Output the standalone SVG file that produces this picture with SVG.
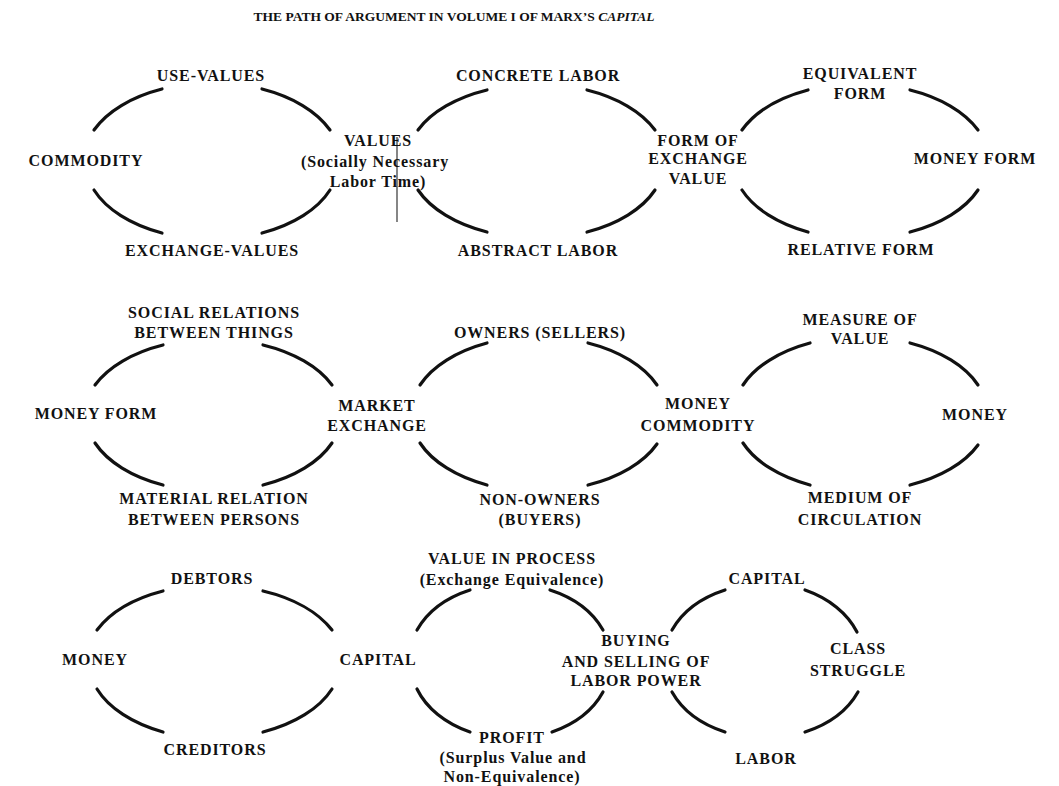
<svg xmlns="http://www.w3.org/2000/svg" width="1059" height="786" viewBox="0 0 1059 786">
<style>
  text { font-family: "Liberation Serif", "Times New Roman", serif; font-weight: bold; font-size: 16px; fill: #111; text-anchor: middle; letter-spacing: 0.9px; }
  .title { font-size: 13.5px; letter-spacing: 0; }
  .arc { fill: none; stroke: #111; stroke-width: 3.2; stroke-linecap: round; }
  .mark { stroke: #444; stroke-width: 1.3; fill: none; }
</style>
<rect width="1059" height="786" fill="#fff"/>
<g id="title"><text class="title" x="454" y="21">THE PATH OF ARGUMENT IN VOLUME I OF MARX’S <tspan font-style="italic">CAPITAL</tspan></text></g>

<g id="connectors">
  <!-- row 1 -->
  <path class="arc" d="M94,130 A128,77 0 0 1 162,89"/>
  <path class="arc" d="M262,89 A128,77 0 0 1 330,130"/>
  <path class="arc" d="M330,190 A128,77 0 0 1 262,233"/>
  <path class="arc" d="M162,233 A128,77 0 0 1 94,190"/>

  <path class="arc" d="M418,130 A128,77 0 0 1 487,90"/>
  <path class="arc" d="M587,90 A128,77 0 0 1 655,130"/>
  <path class="arc" d="M655,190 A128,77 0 0 1 587,232"/>
  <path class="arc" d="M487,232 A128,77 0 0 1 418,190"/>

  <path class="arc" d="M742,130 A128,77 0 0 1 808,90"/>
  <path class="arc" d="M910,90 A128,77 0 0 1 978,130"/>
  <path class="arc" d="M978,190 A128,77 0 0 1 910,232"/>
  <path class="arc" d="M808,232 A128,77 0 0 1 742,190"/>

  <!-- row 2 -->
  <path class="arc" d="M95,385 A128,77 0 0 1 163,345"/>
  <path class="arc" d="M263,345 A128,77 0 0 1 332,385"/>
  <path class="arc" d="M332,443 A128,77 0 0 1 263,485"/>
  <path class="arc" d="M163,485 A128,77 0 0 1 95,443"/>

  <path class="arc" d="M420,385 A128,77 0 0 1 487,343"/>
  <path class="arc" d="M588,343 A128,77 0 0 1 657,385"/>
  <path class="arc" d="M657,444 A128,77 0 0 1 588,485"/>
  <path class="arc" d="M487,485 A128,77 0 0 1 420,443"/>

  <path class="arc" d="M743,385 A128,77 0 0 1 810,343"/>
  <path class="arc" d="M910,343 A128,77 0 0 1 978,385"/>
  <path class="arc" d="M978,445 A128,77 0 0 1 910,485"/>
  <path class="arc" d="M810,485 A128,77 0 0 1 743,443"/>

  <!-- row 3 -->
  <path class="arc" d="M97,630 A128,77 0 0 1 163,591"/>
  <path class="arc" d="M263,591 A128,77 0 0 1 332,630"/>
  <path class="arc" d="M332,689 A128,77 0 0 1 263,732"/>
  <path class="arc" d="M163,732 A128,77 0 0 1 97,689"/>

  <path class="arc" d="M417,630 A101,76 0 0 1 470,590"/>
  <path class="arc" d="M550,590 A101,76 0 0 1 603,630"/>
  <path class="arc" d="M603,692 A101,76 0 0 1 552,732"/>
  <path class="arc" d="M470,732 A101,76 0 0 1 417,689"/>

  <path class="arc" d="M672,630 A101,76 0 0 1 725,590"/>
  <path class="arc" d="M805,590 A101,76 0 0 1 857,632"/>
  <path class="arc" d="M858,692 A101,76 0 0 1 805,732"/>
  <path class="arc" d="M725,732 A101,76 0 0 1 672,692"/>

  <line class="mark" x1="397" y1="137" x2="397" y2="222"/>
</g>

<!-- row 1 nodes -->
<g id="commodity"><text x="86" y="166">COMMODITY</text></g>
<g id="use-values"><text x="211" y="81">USE-VALUES</text></g>
<g id="exchange-values"><text x="212" y="256">EXCHANGE-VALUES</text></g>
<g id="values"><text x="378" y="146">VALUES</text><text x="375" y="167">(Socially Necessary</text><text x="378" y="187">Labor Time)</text></g>
<g id="concrete-labor"><text x="538" y="81">CONCRETE LABOR</text></g>
<g id="abstract-labor"><text x="538" y="256">ABSTRACT LABOR</text></g>
<g id="form-of-exchange-value"><text x="698" y="146">FORM OF</text><text x="698" y="164">EXCHANGE</text><text x="698" y="184">VALUE</text></g>
<g id="equivalent-form"><text x="860" y="79">EQUIVALENT</text><text x="860" y="99">FORM</text></g>
<g id="money-form-1"><text x="975" y="164">MONEY FORM</text></g>
<g id="relative-form"><text x="861" y="255">RELATIVE FORM</text></g>

<!-- row 2 nodes -->
<g id="social-relations"><text x="214" y="318">SOCIAL RELATIONS</text><text x="214" y="338">BETWEEN THINGS</text></g>
<g id="money-form-2"><text x="96" y="419">MONEY FORM</text></g>
<g id="market-exchange"><text x="377" y="411">MARKET</text><text x="377" y="431">EXCHANGE</text></g>
<g id="material-relation"><text x="214" y="504">MATERIAL RELATION</text><text x="214" y="525">BETWEEN PERSONS</text></g>
<g id="owners"><text x="540" y="338">OWNERS (SELLERS)</text></g>
<g id="non-owners"><text x="540" y="505">NON-OWNERS</text><text x="540" y="525">(BUYERS)</text></g>
<g id="money-commodity"><text x="698" y="409">MONEY</text><text x="698" y="431">COMMODITY</text></g>
<g id="measure-of-value"><text x="860" y="325">MEASURE OF</text><text x="860" y="344">VALUE</text></g>
<g id="money-2"><text x="975" y="420">MONEY</text></g>
<g id="medium-of-circulation"><text x="860" y="503">MEDIUM OF</text><text x="860" y="525">CIRCULATION</text></g>

<!-- row 3 nodes -->
<g id="debtors"><text x="212" y="584">DEBTORS</text></g>
<g id="money-3"><text x="95" y="665">MONEY</text></g>
<g id="capital-1"><text x="378" y="665">CAPITAL</text></g>
<g id="creditors"><text x="215" y="755">CREDITORS</text></g>
<g id="value-in-process"><text x="512" y="564">VALUE IN PROCESS</text><text x="512" y="585">(Exchange Equivalence)</text></g>
<g id="buying-selling"><text x="636" y="646">BUYING</text><text x="636" y="667">AND SELLING OF</text><text x="636" y="686">LABOR POWER</text></g>
<g id="profit"><text x="512" y="743">PROFIT</text><text x="513" y="763">(Surplus Value and</text><text x="512" y="782">Non-Equivalence)</text></g>
<g id="capital-2"><text x="767" y="584">CAPITAL</text></g>
<g id="class-struggle"><text x="858" y="654">CLASS</text><text x="858" y="676">STRUGGLE</text></g>
<g id="labor"><text x="766" y="764">LABOR</text></g>
</svg>
